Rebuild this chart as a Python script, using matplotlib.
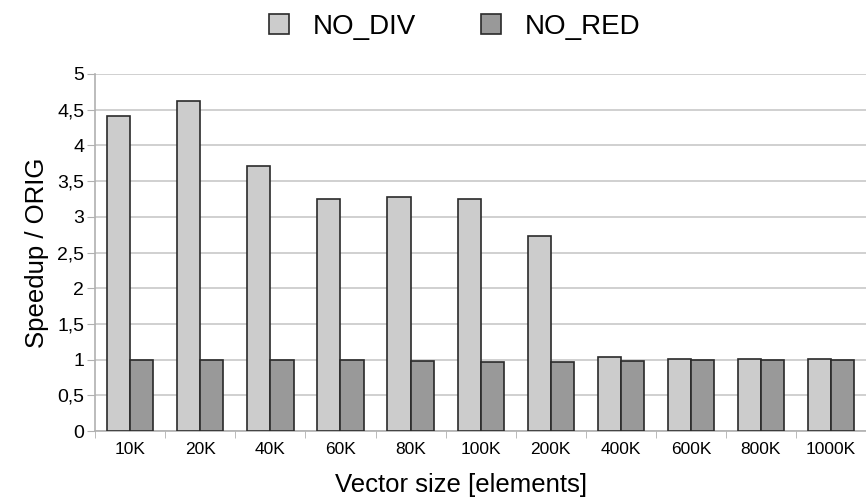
import numpy as np
import matplotlib.pyplot as plt

plt.rcParams['font.family'] = ['Liberation Sans', 'DejaVu Sans']

sizes = ['10K', '20K', '40K', '60K', '80K', '100K', '200K', '400K', '600K', '800K', '1000K']
no_div = [4.41, 4.62, 3.71, 3.25, 3.28, 3.25, 2.73, 1.03, 1.01, 1.01, 1.01]
no_red = [0.99, 0.99, 0.99, 0.99, 0.98, 0.97, 0.96, 0.98, 1.00, 0.99, 0.99]
yticks = np.arange(0, 5.01, 0.5)

fig = plt.figure(figsize=(8.66, 5.0), dpi=100)
ax = fig.add_axes([0.110, 0.138, 0.890, 0.714])

x = np.arange(len(sizes))
w = 0.33
b1 = ax.bar(x - w/2, no_div, w, color='#cccccc', edgecolor='#2a2a2a', linewidth=1.2, label='NO_DIV', zorder=3)
b2 = ax.bar(x + w/2, no_red, w, color='#999999', edgecolor='#2a2a2a', linewidth=1.2, label='NO_RED', zorder=3)

ax.set_ylim(0, 5)
ax.set_xlim(-0.5, 10.415)
ax.set_yticks(yticks)
ax.set_yticklabels([('%g' % v).replace('.', ',') for v in yticks], fontsize=14)
ax.set_xticks(x)
ax.set_xticklabels(sizes, fontsize=12.5)
ax.set_xticks(np.arange(-0.5, 11, 1), minor=True)
ax.tick_params(axis='x', which='major', length=0, pad=8)
ax.tick_params(axis='x', which='minor', length=5, color='#b0b0b0', direction='out')
ax.tick_params(axis='y', length=6, color='#b0b0b0', pad=2)

ax.yaxis.grid(True, color='#c8c8c8', linewidth=1.2, zorder=0)
for s in ['top', 'right']:
    ax.spines[s].set_visible(False)
for s in ['left', 'bottom']:
    ax.spines[s].set_color('#b0b0b0')
    ax.spines[s].set_linewidth(1.2)

ax.set_ylabel('Speedup / ORIG', fontsize=18.5, labelpad=6)
ax.set_xlabel('Vector size [elements]', fontsize=18.5)
ax.xaxis.set_label_coords(0.4745, -0.118)

fig.legend(handles=[b1, b2], loc='center', bbox_to_anchor=(0.525, 0.946), ncol=2,
           frameon=False, fontsize=20, handlelength=0.72, handleheight=0.72,
           handletextpad=0.86, columnspacing=2.35)

fig.savefig('out.png', dpi=100)
